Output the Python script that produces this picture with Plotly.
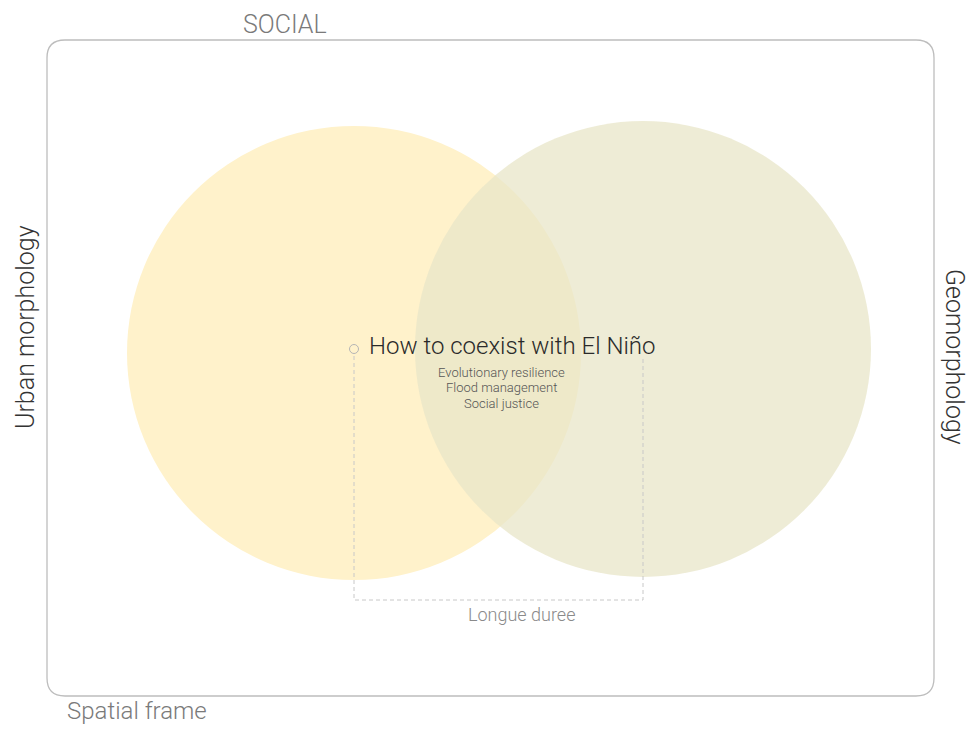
import plotly.graph_objects as go

# ---- data ----
circle_names = ["Urban morphology", "Geomorphology"]
circle_cx = [354, 643]
circle_cy = [353, 349]
circle_r = [227, 228]
circle_fill = ["rgba(255,242,203,1)", "rgba(232,230,200,0.75)"]

title_text = "How to coexist with El Niño"
sub_lines = ["Evolutionary resilience", "Flood management", "Social justice"]
span_label = "Longue duree"
frame_labels = {"top": "SOCIAL", "bottom": "Spatial frame"}

W, H = 973, 729
FONT = "Roboto"

fig = go.Figure()
fig.add_trace(go.Scatter(x=[0, W], y=[0, H], mode="markers",
                         marker=dict(opacity=0), hoverinfo="skip", showlegend=False))

# rounded frame
x0, x1, y0, y1, rr = 47, 934, 40, 696, 18
path = (f"M{x0+rr},{y0} L{x1-rr},{y0} Q{x1},{y0} {x1},{y0+rr} "
        f"L{x1},{y1-rr} Q{x1},{y1} {x1-rr},{y1} L{x0+rr},{y1} "
        f"Q{x0},{y1} {x0},{y1-rr} L{x0},{y0+rr} Q{x0},{y0} {x0+rr},{y0} Z")
fig.add_shape(type="path", path=path, line=dict(color="#bdbdbd", width=1.3),
              fillcolor="rgba(0,0,0,0)", layer="below")

for cx, cy, r, fc in zip(circle_cx, circle_cy, circle_r, circle_fill):
    fig.add_shape(type="circle", x0=cx - r, x1=cx + r, y0=cy - r, y1=cy + r,
                  fillcolor=fc, line=dict(width=0), layer="below")

# dashed bracket
lx, rx, ty, by = circle_cx[0], circle_cx[1], 356, 600
fig.add_shape(type="path", path=f"M{lx},{ty} L{lx},{by} L{rx},{by} L{rx},{ty}",
              line=dict(color="#c8c8c8", width=1, dash="4px,3px"))
# small circle marker
fig.add_shape(type="circle", x0=lx - 4.5, x1=lx + 4.5, y0=349 - 4.5, y1=349 + 4.5,
              line=dict(color="#b5b5b5", width=1), fillcolor="rgba(0,0,0,0)")

ann = []
ann.append(dict(x=512, y=346, text=title_text, showarrow=False,
                font=dict(family=FONT, size=24, color="#2a2a2a", weight=300)))
for i, s in enumerate(sub_lines):
    ann.append(dict(x=501, y=372 + i * 15.5, text=s, showarrow=False,
                    font=dict(family=FONT, size=13, color="#555555", weight=300)))
ann.append(dict(x=521, y=614, text=span_label, showarrow=False,
                font=dict(family=FONT, size=18, color="#8a8a8a", weight=300)))
ann.append(dict(x=285, y=24, text=frame_labels["top"], showarrow=False,
                font=dict(family=FONT, size=25, color="#7a7a7a", weight=300)))
ann.append(dict(x=137, y=711, text=frame_labels["bottom"], showarrow=False,
                font=dict(family=FONT, size=24, color="#7a7a7a", weight=300)))
ann.append(dict(x=25, y=327, text=circle_names[0], showarrow=False, textangle=-90,
                font=dict(family=FONT, size=25, color="#333333", weight=300)))
ann.append(dict(x=955, y=357, text=circle_names[1], showarrow=False, textangle=90,
                font=dict(family=FONT, size=25, color="#333333", weight=300)))
for a in ann:
    a.update(xref="x", yref="y")

fig.update_layout(
    width=W, height=H, margin=dict(l=0, r=0, t=0, b=0),
    paper_bgcolor="white", plot_bgcolor="white",
    xaxis=dict(range=[0, W], visible=False, fixedrange=True),
    yaxis=dict(range=[H, 0], visible=False, fixedrange=True),
    annotations=ann, showlegend=False,
)
fig.write_html("out.html", config={"displayModeBar": False},
               post_script="document.body.style.margin='0px';document.body.style.overflow='hidden';")
